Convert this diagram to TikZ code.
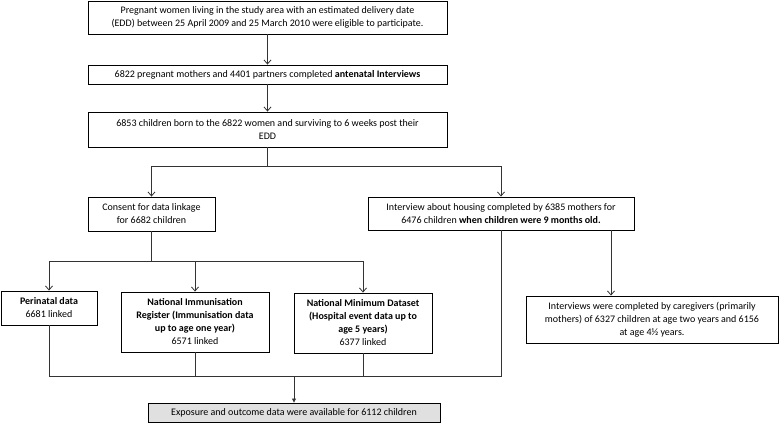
\documentclass[tikz,border=0pt]{standalone}
\usepackage{fontspec}
\setmainfont{Carlito}
\usetikzlibrary{arrows.meta,shadows}
\begin{document}
\begin{tikzpicture}[x=1pt,y=-1pt,
  box/.style={draw=black,line width=0.9pt,fill=white,inner sep=0pt,align=center,
    font=\fontsize{10}{13}\selectfont,
    drop shadow={shadow xshift=1.2pt,shadow yshift=-1.2pt,fill=black!45,opacity=1}},
  conn/.style={line width=0.8pt,draw=black!80},
  arr/.style={conn,-{Straight Barb[length=4pt,width=7pt]}},
  farr/.style={conn,-{Triangle[length=4pt,width=4pt]}}]
\useasboundingbox (0,0) rectangle (779,423);

\node[box,minimum width=359pt,minimum height=33pt] (b1) at (267.5,17.5)
  {Pregnant women living in the study area with an estimated delivery date\\
   (EDD) between 25 April 2009 and 25 March 2010 were eligible to participate.};
\node[box,minimum width=359pt,minimum height=19pt] (b2) at (267.5,74.5)
  {6822 pregnant mothers and 4401 partners completed \textbf{antenatal Interviews}};
\node[box,minimum width=359pt,minimum height=35pt] (b3) at (267.5,129.5)
  {6853 children born to the 6822 women and surviving to 6 weeks post their\\ EDD};
\node[box,minimum width=127pt,minimum height=34pt] (consent) at (151.5,214)
  {Consent for data linkage\\ for 6682 children};
\node[box,minimum width=266pt,minimum height=33pt] (interview) at (501,213.5)
  {Interview about housing completed by 6385 mothers for\\
   6476 children \textbf{when children were 9 months old.}};
\node[box,minimum width=96pt,minimum height=34pt] (peri) at (49,308)
  {\textbf{Perinatal data}\\ 6681 linked};
\node[box,minimum width=148pt,minimum height=60pt] (immun) at (195,322)
  {\textbf{National Immunisation}\\ \textbf{Register (Immunisation data}\\
   \textbf{up to age one year)}\\ 6571 linked};
\node[box,minimum width=138pt,minimum height=60pt] (nmd) at (363,323)
  {\textbf{National Minimum Dataset}\\ \textbf{(Hospital event data up to}\\
   \textbf{age 5 years)}\\ 6377 linked};
\node[box,minimum width=252pt,minimum height=47pt] (care) at (652,319.5)
  {Interviews were completed by caregivers (primarily\\
   mothers) of 6327 children at age two years and 6156\\ at age 4½ years.};
\node[box,fill=black!12,minimum width=292pt,minimum height=19pt] (final) at (294,412.5)
  {Exposure and outcome data were available for 6112 children};

% top chain
\draw[arr] (b1) -- (b2);
\draw[arr] (b2) -- (b3);
\coordinate (j1) at (267.5,166);
\draw[conn] (b3.south) -- (j1);
\draw[arr] (j1) -| (consent.north);
\draw[arr] (j1) -| (interview.north);

% consent to linkage boxes
\coordinate (j2) at (151.5,261);
\draw[conn] (consent.south) -- (j2);
\draw[arr] (j2) -| (peri.north);
\draw[arr] (j2) -| (immun.north);
\draw[arr] (j2) -| (nmd.north);

% merge to final
\coordinate (j3) at (294,376);
\draw[conn] (peri.south) -- (peri.south |- j3) -- (interview.south |- j3) -- (interview.south);
\draw[conn] (immun.south) -- (immun.south |- j3);
\draw[conn] (nmd.south) -- (nmd.south |- j3);
\draw[farr] (j3) -- (final.north);

% interview to caregivers
\coordinate (j4) at ([xshift=110pt]interview.south);
\draw[arr] (j4) -- (j4 |- care.north);
\end{tikzpicture}
\end{document}
